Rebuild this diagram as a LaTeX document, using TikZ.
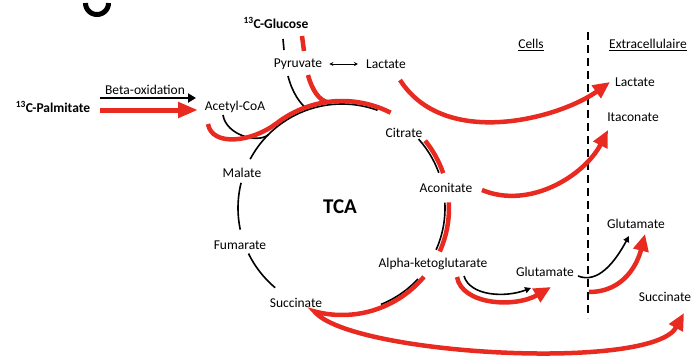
\documentclass[tikz,border=0pt]{standalone}
\usepackage{fontspec}
\setmainfont{Carlito}
\usetikzlibrary{arrows.meta}
\definecolor{tcared}{RGB}{232,42,32}
\begin{document}
\begin{tikzpicture}[x=1pt,y=-1pt,
  lbl/.style={font=\fontsize{13.5}{16}\selectfont, inner sep=1pt},
  blk/.style={line width=1.6pt, black},
  rd/.style={line width=4.5pt, tcared},
  rdarrow/.style={rd, -{Triangle[length=17pt,width=15pt]}},
  blkarrow/.style={blk, -{Triangle[length=6pt,width=6pt]}}]
\useasboundingbox (0,0) rectangle (699,362);

% cropped letter at the top
\draw[line width=5pt] plot[domain=0:180,samples=30] ({97+11.5*cos(\x)},{3+11.5*sin(\x)});

% labels
\node[lbl] (glc) at (276,23) {\textbf{\textsuperscript{13}C-Glucose}};
\node[lbl] (pyr) at (298,64) {Pyruvate};
\node[lbl] (lacin) at (386,64) {Lactate};
\node[lbl] (acoa) at (235,107) {Acetyl-CoA};
\node[lbl] (palm) at (53,107) {\textbf{\textsuperscript{13}C-Palmitate}};
\node[lbl] (beta) at (145,90) {Beta-oxidation};
\node[lbl] (cit) at (404,133) {Citrate};
\node[lbl] (mal) at (242,173) {Malate};
\node[font=\fontsize{21}{24}\selectfont\bfseries, inner sep=1pt] (tca) at (340,207) {TCA};
\node[lbl] (aco) at (446,188) {Aconitate};
\node[lbl] (fum) at (240,245) {Fumarate};
\node[lbl] (akg) at (433,264) {Alpha-ketoglutarate};
\node[lbl] (suc) at (296,303) {Succinate};
\node[lbl] (gluin) at (545,272) {Glutamate};
\node[lbl] (cells) at (531,45) {\underline{Cells}};
\node[lbl] (extra) at (648,45) {\underline{Extracellulaire}};
\node[lbl] (lacout) at (635,82) {Lactate};
\node[lbl] (ita) at (633,117) {Itaconate};
\node[lbl] (gluout) at (636,224) {Glutamate};
\node[lbl] (sucout) at (665,297) {Succinate};

% membrane
\coordinate (dtop) at (588,32);
\coordinate (dbot) at (588,318);
\draw[line width=2pt, dash pattern=on 8pt off 5pt] (dtop) -- (dbot);

% glucose
\draw[blk] (283,39) -- (284,50);
\draw[rd] (302,36) -- (304,51);

% pyruvate <-> lactate
\draw[blk, line width=1pt, {Stealth[length=4pt,width=4pt]}-{Stealth[length=4pt,width=4pt]}]
  ([xshift=6pt]pyr.east) -- ([xshift=-7pt]lacin.west);

% beta-oxidation
\coordinate (b1) at (100,98); \coordinate (b2) at (196,98);
\coordinate (r1) at (100,110); \coordinate (r2) at (198,110);
\draw[line width=2.4pt, -{Triangle[length=8pt,width=9pt]}] (b1) -- (b2);
\draw[line width=5pt, tcared, -{Triangle[length=20pt,width=15pt]}] (r1) -- (r2);

% TCA circle (black)
\draw[blk] plot[domain=208:290,samples=40] ({342+104*cos(\x)},{208+104*sin(\x)});
\draw[blk] plot[domain=318:340,samples=15] ({342+103*cos(\x)},{208+103*sin(\x)});
\draw[blk] plot[domain=-3:24,samples=15] ({342+103*cos(\x)},{208+103*sin(\x)});
\draw[blk] plot[domain=43:68,samples=15] ({342+104*cos(\x)},{208+104*sin(\x)});
\draw[blk] plot[domain=130:154,samples=15] ({342+104*cos(\x)},{208+104*sin(\x)});
\draw[blk] plot[domain=168:194,samples=15] ({342+104*cos(\x)},{208+104*sin(\x)});

% inputs (black)
\draw[blk] (223,115) .. controls (226,135) and (258,144) .. (268.5,134.5);
\draw[blk] (288,76) .. controls (292,92) and (300,104) .. (308,109.7);

% red labelled paths
\draw[rd] (208,124) .. controls (212,147) and (252,142) .. (276,123.7)
  -- plot[domain=232:297,samples=40] ({342+107*cos(\x)},{208+107*sin(\x)});
\draw[rd] (308,75) .. controls (312,90) and (319,100) .. (327,102);
\draw[rd] plot[domain=321:341,samples=15] ({342+107*cos(\x)},{208+107*sin(\x)});
\draw[rd] plot[domain=-3:24,samples=15] ({342+107*cos(\x)},{208+107*sin(\x)});
\draw[rdarrow] plot[domain=40:105,samples=30] ({342+107*cos(\x)},{208+107*sin(\x)})
  .. controls (350,355) and (652,372) .. (684,313);

% export arrows
\draw[rdarrow] (400,80) .. controls (445,150) and (560,118) .. (610,82);
\draw[rdarrow] (482,190) .. controls (530,210) and (585,175) .. (608,130);
\draw[rdarrow] (457,277) .. controls (462,305) and (515,308) .. (551,287);
\draw[blkarrow] (464,276) .. controls (470,296) and (505,298) .. (531,288);
\draw[blkarrow] (578,276) .. controls (598,284) and (615,262) .. (629,236);
\draw[rdarrow] (589,292) .. controls (625,292) and (638,262) .. (645,234);
\end{tikzpicture}
\end{document}
